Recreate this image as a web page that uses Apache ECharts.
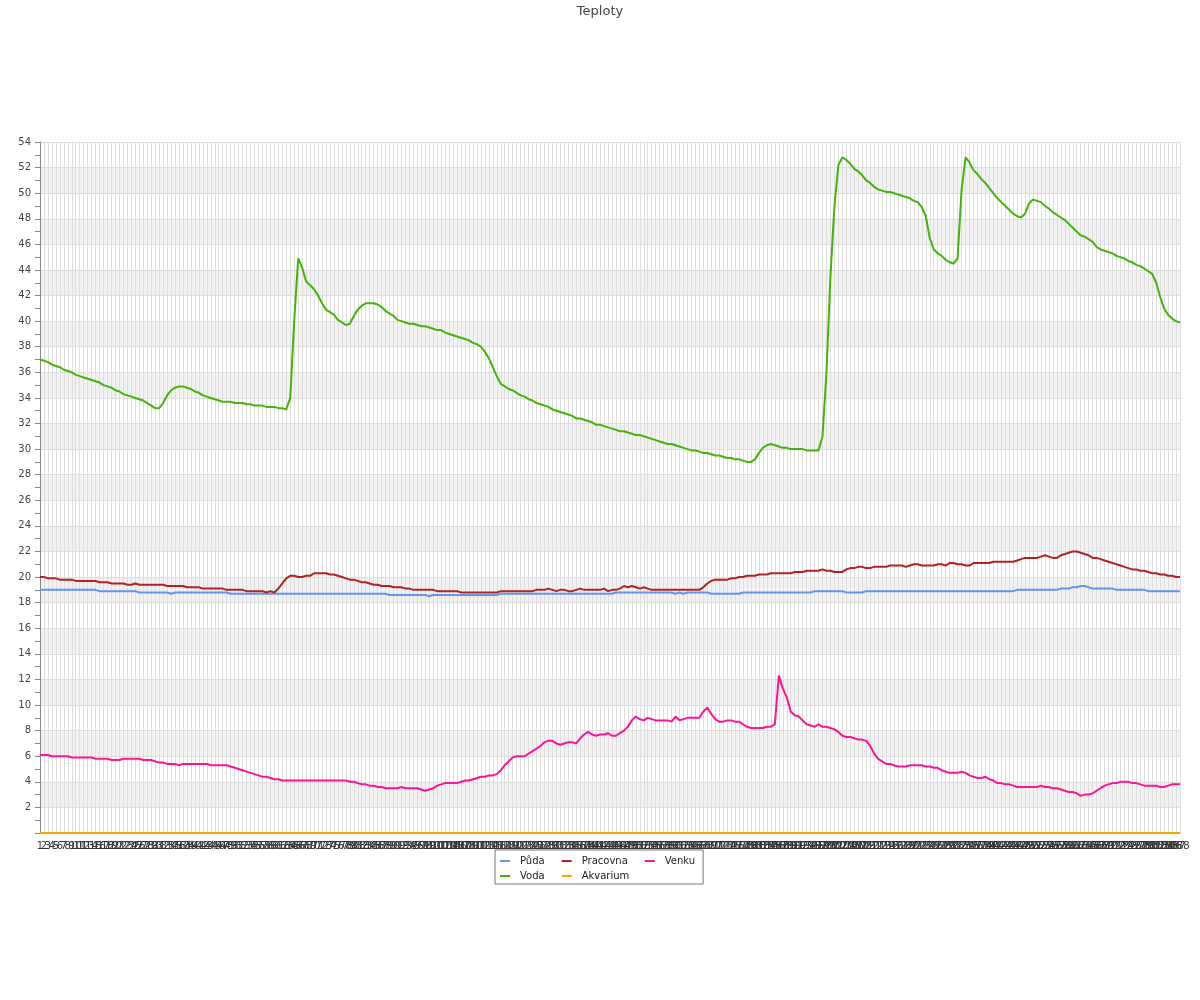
<!DOCTYPE html>
<html>
<head>
<meta charset="utf-8">
<script src="https://cdn.jsdelivr.net/npm/echarts@6/dist/echarts.min.js"></script>
<style>html,body{margin:0;padding:0;background:#fff}#c{width:1200px;height:1000px}</style>
</head>
<body>
<div id="c"></div>
<script>
// Category labels 1..288 (5-minute samples over a day)
const categories = Array.from({length: 288}, (_, i) => String(i + 1));

const puda = [
19.0,19.0,19.0,19.0,19.0,19.0,19.0,19.0,19.0,19.0,
19.0,19.0,19.0,19.0,19.0,18.9,18.9,18.9,18.9,18.9,
18.9,18.9,18.9,18.9,18.9,18.8,18.8,18.8,18.8,18.8,
18.8,18.8,18.8,18.7,18.8,18.8,18.8,18.8,18.8,18.8,
18.8,18.8,18.8,18.8,18.8,18.8,18.8,18.8,18.7,18.7,
18.7,18.7,18.7,18.7,18.7,18.7,18.7,18.7,18.7,18.7,
18.7,18.7,18.7,18.7,18.7,18.7,18.7,18.7,18.7,18.7,
18.7,18.7,18.7,18.7,18.7,18.7,18.7,18.7,18.7,18.7,
18.7,18.7,18.7,18.7,18.7,18.7,18.7,18.7,18.6,18.6,
18.6,18.6,18.6,18.6,18.6,18.6,18.6,18.6,18.5,18.6,
18.6,18.6,18.6,18.6,18.6,18.6,18.6,18.6,18.6,18.6,
18.6,18.6,18.6,18.6,18.6,18.6,18.7,18.7,18.7,18.7,
18.7,18.7,18.7,18.7,18.7,18.7,18.7,18.7,18.7,18.7,
18.7,18.7,18.7,18.7,18.7,18.7,18.7,18.7,18.7,18.7,
18.7,18.7,18.7,18.7,18.7,18.8,18.8,18.8,18.8,18.8,
18.8,18.8,18.8,18.8,18.8,18.8,18.8,18.8,18.8,18.8,
18.7,18.8,18.7,18.8,18.8,18.8,18.8,18.8,18.8,18.7,
18.7,18.7,18.7,18.7,18.7,18.7,18.7,18.8,18.8,18.8,
18.8,18.8,18.8,18.8,18.8,18.8,18.8,18.8,18.8,18.8,
18.8,18.8,18.8,18.8,18.8,18.9,18.9,18.9,18.9,18.9,
18.9,18.9,18.9,18.8,18.8,18.8,18.8,18.8,18.9,18.9,
18.9,18.9,18.9,18.9,18.9,18.9,18.9,18.9,18.9,18.9,
18.9,18.9,18.9,18.9,18.9,18.9,18.9,18.9,18.9,18.9,
18.9,18.9,18.9,18.9,18.9,18.9,18.9,18.9,18.9,18.9,
18.9,18.9,18.9,18.9,18.9,18.9,19.0,19.0,19.0,19.0,
19.0,19.0,19.0,19.0,19.0,19.0,19.0,19.1,19.1,19.1,
19.2,19.2,19.3,19.3,19.2,19.1,19.1,19.1,19.1,19.1,
19.1,19.0,19.0,19.0,19.0,19.0,19.0,19.0,19.0,18.9,
18.9,18.9,18.9,18.9,18.9,18.9,18.9,18.9
];

const voda = [
37.0,36.9,36.8,36.6,36.5,36.4,36.2,36.1,36.0,35.8,
35.7,35.6,35.5,35.4,35.3,35.2,35.0,34.9,34.8,34.6,
34.5,34.3,34.2,34.1,34.0,33.9,33.8,33.6,33.4,33.2,
33.2,33.6,34.2,34.6,34.8,34.9,34.9,34.8,34.7,34.5,
34.4,34.2,34.1,34.0,33.9,33.8,33.7,33.7,33.7,33.6,
33.6,33.6,33.5,33.5,33.4,33.4,33.4,33.3,33.3,33.3,
33.2,33.2,33.1,34.0,40.0,44.9,44.2,43.1,42.8,42.5,
42.0,41.4,40.9,40.7,40.5,40.1,39.9,39.7,39.8,40.4,
40.9,41.2,41.4,41.4,41.4,41.3,41.1,40.8,40.6,40.4,
40.1,40.0,39.9,39.8,39.8,39.7,39.6,39.6,39.5,39.4,
39.3,39.3,39.1,39.0,38.9,38.8,38.7,38.6,38.5,38.3,
38.2,38.0,37.6,37.1,36.4,35.7,35.1,34.9,34.7,34.6,
34.4,34.2,34.1,33.9,33.8,33.6,33.5,33.4,33.3,33.1,
33.0,32.9,32.8,32.7,32.6,32.4,32.4,32.3,32.2,32.1,
31.9,31.9,31.8,31.7,31.6,31.5,31.4,31.4,31.3,31.2,
31.1,31.1,31.0,30.9,30.8,30.7,30.6,30.5,30.4,30.4,
30.3,30.2,30.1,30.0,29.9,29.9,29.8,29.7,29.7,29.6,
29.5,29.5,29.4,29.3,29.3,29.2,29.2,29.1,29.0,29.0,
29.2,29.7,30.1,30.3,30.4,30.3,30.2,30.1,30.1,30.0,
30.0,30.0,30.0,29.9,29.9,29.9,29.9,31.0,36.0,43.5,
49.0,52.2,52.8,52.6,52.3,51.9,51.7,51.4,51.0,50.8,
50.5,50.3,50.2,50.1,50.1,50.0,49.9,49.8,49.7,49.6,
49.4,49.3,48.9,48.2,46.5,45.6,45.3,45.1,44.8,44.6,
44.5,44.9,50.2,52.8,52.4,51.8,51.5,51.1,50.8,50.4,
50.0,49.6,49.3,49.0,48.7,48.4,48.2,48.1,48.4,49.2,
49.5,49.4,49.3,49.0,48.8,48.5,48.3,48.1,47.9,47.6,
47.3,47.0,46.7,46.6,46.4,46.2,45.8,45.6,45.5,45.4,
45.3,45.1,45.0,44.9,44.7,44.6,44.4,44.3,44.1,43.9,
43.7,43.0,41.9,41.0,40.5,40.2,40.0,39.9
];

const pracovna = [
20.0,20.0,19.9,19.9,19.9,19.8,19.8,19.8,19.8,19.7,
19.7,19.7,19.7,19.7,19.7,19.6,19.6,19.6,19.5,19.5,
19.5,19.5,19.4,19.4,19.5,19.4,19.4,19.4,19.4,19.4,
19.4,19.4,19.3,19.3,19.3,19.3,19.3,19.2,19.2,19.2,
19.2,19.1,19.1,19.1,19.1,19.1,19.1,19.0,19.0,19.0,
19.0,19.0,18.9,18.9,18.9,18.9,18.9,18.8,18.9,18.8,
19.1,19.5,19.9,20.1,20.1,20.0,20.0,20.1,20.1,20.3,
20.3,20.3,20.3,20.2,20.2,20.1,20.0,19.9,19.8,19.8,
19.7,19.6,19.6,19.5,19.4,19.4,19.3,19.3,19.3,19.2,
19.2,19.2,19.1,19.1,19.0,19.0,19.0,19.0,19.0,19.0,
18.9,18.9,18.9,18.9,18.9,18.9,18.8,18.8,18.8,18.8,
18.8,18.8,18.8,18.8,18.8,18.8,18.9,18.9,18.9,18.9,
18.9,18.9,18.9,18.9,18.9,19.0,19.0,19.0,19.1,19.0,
18.9,19.0,19.0,18.9,18.9,19.0,19.1,19.0,19.0,19.0,
19.0,19.0,19.1,18.9,19.0,19.0,19.1,19.3,19.2,19.3,
19.2,19.1,19.2,19.1,19.0,19.0,19.0,19.0,19.0,19.0,
19.0,19.0,19.0,19.0,19.0,19.0,19.0,19.2,19.5,19.7,
19.8,19.8,19.8,19.8,19.9,19.9,20.0,20.0,20.1,20.1,
20.1,20.2,20.2,20.2,20.3,20.3,20.3,20.3,20.3,20.3,
20.4,20.4,20.4,20.5,20.5,20.5,20.5,20.6,20.5,20.5,
20.4,20.4,20.4,20.6,20.7,20.7,20.8,20.8,20.7,20.7,
20.8,20.8,20.8,20.8,20.9,20.9,20.9,20.9,20.8,20.9,
21.0,21.0,20.9,20.9,20.9,20.9,21.0,21.0,20.9,21.1,
21.1,21.0,21.0,20.9,20.9,21.1,21.1,21.1,21.1,21.1,
21.2,21.2,21.2,21.2,21.2,21.2,21.3,21.4,21.5,21.5,
21.5,21.5,21.6,21.7,21.6,21.5,21.5,21.7,21.8,21.9,
22.0,22.0,21.9,21.8,21.7,21.5,21.5,21.4,21.3,21.2,
21.1,21.0,20.9,20.8,20.7,20.6,20.6,20.5,20.5,20.4,
20.3,20.3,20.2,20.2,20.1,20.1,20.0,20.0
];

const akvarium = [
0,0,0,0,0,0,0,0,0,0,0,0,0,0,0,0,0,0,0,0,0,0,0,0,0,0,0,0,0,0,0,0,0,0,0,0,
0,0,0,0,0,0,0,0,0,0,0,0,0,0,0,0,0,0,0,0,0,0,0,0,0,0,0,0,0,0,0,0,0,0,0,0,
0,0,0,0,0,0,0,0,0,0,0,0,0,0,0,0,0,0,0,0,0,0,0,0,0,0,0,0,0,0,0,0,0,0,0,0,
0,0,0,0,0,0,0,0,0,0,0,0,0,0,0,0,0,0,0,0,0,0,0,0,0,0,0,0,0,0,0,0,0,0,0,0,
0,0,0,0,0,0,0,0,0,0,0,0,0,0,0,0,0,0,0,0,0,0,0,0,0,0,0,0,0,0,0,0,0,0,0,0,
0,0,0,0,0,0,0,0,0,0,0,0,0,0,0,0,0,0,0,0,0,0,0,0,0,0,0,0,0,0,0,0,0,0,0,0,
0,0,0,0,0,0,0,0,0,0,0,0,0,0,0,0,0,0,0,0,0,0,0,0,0,0,0,0,0,0,0,0,0,0,0,0,
0,0,0,0,0,0,0,0,0,0,0,0,0,0,0,0,0,0,0,0,0,0,0,0,0,0,0,0,0,0,0,0,0,0,0,0
];

const venku = [
6.1,6.1,6.1,6.0,6.0,6.0,6.0,6.0,5.9,5.9,
5.9,5.9,5.9,5.9,5.8,5.8,5.8,5.8,5.7,5.7,
5.7,5.8,5.8,5.8,5.8,5.8,5.7,5.7,5.7,5.6,
5.5,5.5,5.4,5.4,5.4,5.3,5.4,5.4,5.4,5.4,
5.4,5.4,5.4,5.3,5.3,5.3,5.3,5.3,5.2,5.1,
5.0,4.9,4.8,4.7,4.6,4.5,4.4,4.4,4.3,4.2,
4.2,4.1,4.1,4.1,4.1,4.1,4.1,4.1,4.1,4.1,
4.1,4.1,4.1,4.1,4.1,4.1,4.1,4.1,4.0,4.0,
3.9,3.8,3.8,3.7,3.7,3.6,3.6,3.5,3.5,3.5,
3.5,3.6,3.5,3.5,3.5,3.5,3.4,3.3,3.4,3.5,
3.7,3.8,3.9,3.9,3.9,3.9,4.0,4.1,4.1,4.2,
4.3,4.4,4.4,4.5,4.5,4.6,4.9,5.3,5.6,5.9,
6.0,6.0,6.0,6.2,6.4,6.6,6.8,7.1,7.2,7.2,
7.0,6.9,7.0,7.1,7.1,7.0,7.4,7.7,7.9,7.7,
7.6,7.7,7.7,7.8,7.6,7.6,7.8,8.0,8.3,8.8,
9.1,8.9,8.8,9.0,8.9,8.8,8.8,8.8,8.8,8.7,
9.1,8.8,8.9,9.0,9.0,9.0,9.0,9.5,9.8,9.3,
8.9,8.7,8.7,8.8,8.8,8.7,8.7,8.5,8.3,8.2,
8.2,8.2,8.2,8.3,8.3,8.5,12.3,11.3,10.6,9.5,
9.2,9.1,8.8,8.5,8.4,8.3,8.5,8.3,8.3,8.2,
8.1,7.9,7.6,7.5,7.5,7.4,7.3,7.3,7.2,6.8,
6.2,5.8,5.6,5.4,5.4,5.3,5.2,5.2,5.2,5.3,
5.3,5.3,5.3,5.2,5.2,5.1,5.1,4.9,4.8,4.7,
4.7,4.7,4.8,4.7,4.5,4.4,4.3,4.3,4.4,4.2,
4.1,3.9,3.9,3.8,3.8,3.7,3.6,3.6,3.6,3.6,
3.6,3.6,3.7,3.6,3.6,3.5,3.5,3.4,3.3,3.2,
3.2,3.1,2.9,3.0,3.0,3.1,3.3,3.5,3.7,3.8,
3.9,3.9,4.0,4.0,4.0,3.9,3.9,3.8,3.7,3.7,
3.7,3.7,3.6,3.6,3.7,3.8,3.8,3.8
];

const legendRow1 = ['Půda', 'Pracovna', 'Venku'];
const legendRow2 = ['Voda', 'Akvarium'];

const FONT = 'DejaVu Sans';
const chart = echarts.init(document.getElementById('c'), null, {renderer: 'canvas'});

function line(name, data, color) {
  return {
    name: name, type: 'line', data: data, showSymbol: false, symbol: 'none',
    color: color, lineStyle: {width: 2, color: color}, animation: false
  };
}

const legendCommon = {
  orient: 'horizontal', left: 495, itemWidth: 10, itemHeight: 2, itemGap: 17,
  icon: 'rect',
  textStyle: {fontFamily: FONT, fontSize: 10, color: '#222', padding: [0, 0, 0, 5]}
};

chart.setOption({
  animation: false,
  backgroundColor: '#fff',
  textStyle: {fontFamily: FONT},
  title: {
    text: 'Teploty', left: 'center', top: 0,
    textStyle: {fontFamily: FONT, fontSize: 13, fontWeight: 'normal', color: '#444'}
  },
  legend: [
    Object.assign({}, legendCommon, {
      data: legendRow1, top: 850, padding: [6, 8, 18, 5],
      borderColor: '#777', borderWidth: 1
    }),
    Object.assign({}, legendCommon, {
      data: legendRow2, top: 871, padding: [0, 8, 0, 5]
    })
  ],
  grid: {left: 40, right: 20, top: 142, bottom: 167, containLabel: false},
  xAxis: {
    type: 'category', data: categories, boundaryGap: false,
    axisLine: {show: true, lineStyle: {color: '#888'}},
    axisTick: {show: false},
    axisLabel: {interval: 0, fontSize: 10, color: '#333', fontFamily: FONT, margin: 8},
    splitLine: {show: true, interval: 0, lineStyle: {color: '#dedede', width: 1}}
  },
  yAxis: {
    type: 'value', min: 0, max: 54, interval: 2,
    axisLine: {show: true, lineStyle: {color: '#888'}},
    axisTick: {show: true, length: 5, lineStyle: {color: '#888'}},
    minorTick: {show: true, splitNumber: 2, length: 5, lineStyle: {color: '#888'}},
    axisLabel: {
      fontSize: 10, color: '#444', fontFamily: FONT, margin: 9,
      formatter: function (v) { return v === 0 ? '' : String(v); }
    },
    splitLine: {show: true, lineStyle: {color: '#dedede', width: 1}},
    splitArea: {show: true, areaStyle: {color: ['rgba(255,255,255,0)', '#f2f2f2']}}
  },
  series: [
    line('Půda', puda, '#6495ed'),
    line('Voda', voda, '#45b30c'),
    line('Pracovna', pracovna, '#b22222'),
    line('Venku', venku, '#ff1493'),
    line('Akvarium', akvarium, '#ffa500')
  ]
});
</script>
</body>
</html>
